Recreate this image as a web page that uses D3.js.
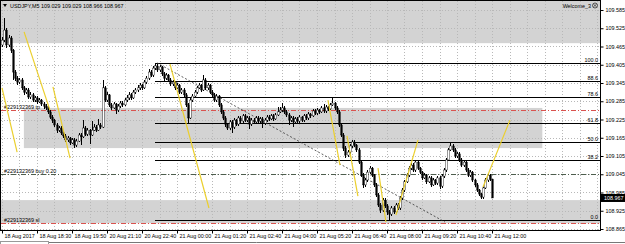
<!DOCTYPE html>
<meta charset="utf-8">
<style>
body { margin: 0; background: #fff; }
svg { display: block; font-family: "Liberation Sans", Arial, sans-serif; }
.grid line { stroke: #b8b8b8; stroke-dasharray: 1,2; shape-rendering: crispEdges; }
.zone { fill: #d3d3d3; }
.wick { stroke: #000; stroke-width: 1; shape-rendering: crispEdges; }
.fib { stroke: #000; stroke-width: 1; shape-rendering: crispEdges; }
.zz { stroke: #ebcf2e; stroke-width: 1.2; fill: none; }
.trend { stroke: #333; stroke-dasharray: 2,2; stroke-width: 0.8; }
.txt { font-size: 5.4px; fill: #000; }
</style>
<svg width="625" height="244"></svg>
<script src="https://d3js.org/d3.v7.min.js"></script>
<script>

var symbol = "USDJPY,M5",
    expertName = "Welcome_3";

var timeLabels = ["18 Aug 2017","18 Aug 18:30","18 Aug 19:50","20 Aug 21:10","20 Aug 22:40",
  "21 Aug 00:00","21 Aug 01:20","21 Aug 02:40","21 Aug 04:00","21 Aug 05:20",
  "21 Aug 06:40","21 Aug 08:00","21 Aug 09:20","21 Aug 10:40","21 Aug 12:00"];

var priceTicks = [109.585,109.525,109.465,109.405,109.345,109.285,109.225,
  109.165,109.105,109.045,108.985,108.925,108.865];

var firstOpen = 109.470;

var closes = [
  109.486,109.519,109.470,109.493,109.453,109.381,109.361,109.348,109.355,109.329,
  109.315,109.322,109.299,109.306,109.289,109.296,109.283,109.289,109.276,109.269,
  109.263,109.250,109.233,109.223,109.207,109.190,109.197,109.181,109.171,109.158,
  109.164,109.148,109.158,109.141,109.154,109.174,109.168,109.197,109.177,109.190,
  109.174,109.190,109.200,109.190,109.207,109.200,109.329,109.289,109.306,109.273,
  109.263,109.276,109.256,109.269,109.279,109.273,109.289,109.296,109.306,109.296,
  109.315,109.322,109.329,109.338,109.329,109.348,109.361,109.381,109.371,109.394,
  109.401,109.388,109.398,109.375,109.361,109.371,109.355,109.342,109.348,109.329,
  109.338,109.315,109.322,109.306,109.273,109.230,109.289,109.302,109.315,109.329,
  109.338,109.322,109.355,109.329,109.338,109.315,109.306,109.289,109.302,109.273,
  109.250,109.230,109.210,109.197,109.217,109.200,109.223,109.210,109.230,109.220,
  109.237,109.223,109.230,109.210,109.223,109.217,109.230,109.220,109.227,109.213,
  109.223,109.233,109.227,109.237,109.227,109.240,109.250,109.256,109.263,109.250,
  109.240,109.223,109.230,109.217,109.227,109.220,109.233,109.223,109.237,109.230,
  109.243,109.237,109.253,109.246,109.256,109.250,109.263,109.253,109.266,109.260,
  109.273,109.279,109.263,109.250,109.207,109.174,109.131,109.108,109.118,109.138,
  109.151,109.141,109.125,109.085,109.042,109.010,109.026,109.052,109.065,109.042,
  109.010,108.977,108.944,108.927,108.960,108.941,108.921,108.914,108.934,108.921,
  108.944,108.934,108.967,108.993,109.020,109.042,109.065,109.075,109.059,109.085,
  109.065,109.052,109.033,109.042,109.020,109.033,109.010,109.026,109.016,109.033,
  109.006,109.039,109.059,109.092,109.125,109.138,109.125,109.105,109.112,109.092,
  109.075,109.085,109.059,109.042,109.052,109.026,109.010,108.993,108.980,108.970,
  109.000,109.026,109.042,109.029,108.967];

var highs = [
  109.497,109.559,109.525,109.502,109.499,109.458,109.388,109.368,109.362,109.360,
  109.335,109.330,109.327,109.314,109.311,109.303,109.301,109.296,109.293,109.282,
  109.275,109.268,109.255,109.240,109.228,109.213,109.204,109.202,109.187,109.177,
  109.171,109.169,109.165,109.163,109.160,109.181,109.180,109.223,109.202,109.197,
  109.195,109.220,109.210,109.206,109.226,109.212,109.355,109.335,109.315,109.310,
  109.279,109.283,109.280,109.276,109.286,109.285,109.296,109.304,109.314,109.312,
  109.322,109.330,109.337,109.346,109.343,109.355,109.368,109.390,109.388,109.402,
  109.411,109.407,109.405,109.402,109.380,109.378,109.376,109.360,109.356,109.352,
  109.346,109.343,109.330,109.327,109.311,109.279,109.296,109.309,109.322,109.336,
  109.346,109.343,109.371,109.360,109.345,109.343,109.321,109.311,109.309,109.307,
  109.278,109.255,109.236,109.215,109.224,109.222,109.230,109.228,109.237,109.236,
  109.244,109.242,109.237,109.235,109.230,109.229,109.237,109.235,109.234,109.232,
  109.230,109.240,109.239,109.244,109.242,109.247,109.266,109.265,109.280,109.268,
  109.255,109.245,109.237,109.235,109.234,109.232,109.240,109.238,109.244,109.242,
  109.250,109.248,109.260,109.258,109.263,109.261,109.270,109.276,109.273,109.271,
  109.280,109.295,109.284,109.268,109.255,109.212,109.180,109.137,109.125,109.145,
  109.158,109.156,109.146,109.130,109.090,109.048,109.033,109.059,109.072,109.070,
  109.047,109.016,108.983,108.950,108.967,108.966,108.947,108.928,108.941,108.940,
  108.951,108.950,108.974,109.000,109.027,109.050,109.072,109.083,109.081,109.092,
  109.090,109.070,109.057,109.049,109.047,109.040,109.038,109.033,109.031,109.040,
  109.038,109.046,109.066,109.099,109.132,109.151,109.144,109.130,109.119,109.117,
  109.097,109.092,109.090,109.064,109.059,109.057,109.031,109.015,108.998,108.985,
  109.007,109.033,109.049,109.047,109.029];

var lows = [
  109.462,109.480,109.461,109.463,109.444,109.355,109.352,109.338,109.342,109.322,
  109.306,109.309,109.292,109.293,109.281,109.284,109.276,109.278,109.270,109.261,
  109.255,109.243,109.226,109.214,109.199,109.182,109.184,109.174,109.163,109.150,
  109.151,109.140,109.143,109.131,109.136,109.150,109.141,109.163,109.171,109.172,
  109.145,109.170,109.186,109.184,109.186,109.195,109.196,109.283,109.282,109.266,
  109.255,109.258,109.243,109.250,109.263,109.266,109.268,109.283,109.290,109.289,
  109.291,109.309,109.316,109.323,109.321,109.324,109.342,109.356,109.364,109.366,
  109.388,109.380,109.382,109.368,109.353,109.356,109.348,109.335,109.336,109.322,
  109.324,109.308,109.310,109.299,109.266,109.213,109.226,109.284,109.297,109.310,
  109.324,109.316,109.318,109.322,109.323,109.309,109.299,109.282,109.284,109.266,
  109.243,109.222,109.201,109.190,109.192,109.181,109.195,109.204,109.205,109.214,
  109.215,109.217,109.218,109.195,109.205,109.211,109.212,109.214,109.215,109.197,
  109.208,109.218,109.221,109.222,109.221,109.222,109.235,109.245,109.251,109.244,
  109.233,109.207,109.218,109.200,109.212,109.214,109.215,109.217,109.218,109.224,
  109.225,109.231,109.232,109.240,109.241,109.244,109.245,109.247,109.248,109.254,
  109.255,109.268,109.257,109.243,109.200,109.166,109.122,109.098,109.102,109.113,
  109.132,109.135,109.118,109.078,109.035,109.000,109.004,109.020,109.046,109.036,
  109.003,108.970,108.936,108.919,108.921,108.934,108.912,108.893,108.908,108.914,
  108.916,108.927,108.929,108.961,108.988,109.015,109.037,109.060,109.053,109.054,
  109.058,109.046,109.026,109.028,109.013,109.015,109.003,109.005,109.010,109.011,
  108.998,109.001,109.034,109.054,109.087,109.120,109.119,109.098,109.100,109.085,
  109.068,109.070,109.052,109.035,109.037,109.019,109.003,108.986,108.973,108.964,
  108.965,108.995,109.020,109.022,108.966];

// rectangles: [fromBar, toBar, priceTop, priceBottom]
var zones = [
  [-2, 280, 109.700, 109.476],
  [10, 247, 109.263, 109.131],
  [-2, 280, 108.960, 108.884]
];

// yellow segments: [bar1, price1, bar2, price2]
var yellowLines = [
  [0, 109.329, 6.9, 109.118],
  [10.1, 109.513, 21.9, 109.256],
  [23.3, 109.332, 31.1, 109.098],
  [76.8, 109.407, 94.6, 108.934],
  [149, 109.289, 154.5, 109.075],
  [157.7, 109.171, 162.7, 108.973],
  [171.9, 109.065, 175.5, 108.888],
  [180.1, 108.911, 190.2, 109.158],
  [219.9, 109.003, 232.2, 109.223]
];

var trendLine = [70.9, 109.411, 202.5, 108.888];

var fibStartBar = 69.9, fibHigh = 109.411, fibLow = 108.893;
var fibLevels = [0, 38.2, 50, 61.8, 78.6, 88.6, 100];

var orderNames = ["#229132369 tp", "#229132369 buy 0.20", "#229132369 sl"];
var orderPrices = [109.256, 109.046, 108.884];
var orderKinds = ["stop", "open", "stop"];

var svg = d3.select("svg"),
    width = +svg.attr("width"),
    height = +svg.attr("height");

var plot = { left: 1, right: 600, top: 1, bottom: 230 };

var x = d3.scaleLinear().domain([0, 224]).range([2, 492]);
var y = d3.scaleLinear().domain([108.865, 109.585]).range([229, 10]);

svg.append("clipPath").attr("id", "clip")
  .append("rect")
    .attr("x", plot.left).attr("y", plot.top)
    .attr("width", plot.right - plot.left).attr("height", plot.bottom - plot.top);

var g = svg.append("g").attr("clip-path", "url(#clip)");

// zones
g.selectAll(".zone").data(zones).enter().append("rect")
    .attr("class", "zone")
    .attr("x", function(d) { return x(d[0]); })
    .attr("width", function(d) { return x(d[1]) - x(d[0]); })
    .attr("y", function(d) { return y(d[2]); })
    .attr("height", function(d) { return y(d[3]) - y(d[2]); });

// grid
var grid = g.append("g").attr("class", "grid");
grid.selectAll(".v").data(d3.range(0, 280, 8)).enter().append("line")
    .attr("x1", function(d) { return Math.round(x(d)) + 0.5; })
    .attr("x2", function(d) { return Math.round(x(d)) + 0.5; })
    .attr("y1", plot.top).attr("y2", plot.bottom);
grid.selectAll(".h").data(priceTicks).enter().append("line")
    .attr("x1", plot.left).attr("x2", plot.right)
    .attr("y1", function(d) { return Math.round(y(d)) + 0.5; })
    .attr("y2", function(d) { return Math.round(y(d)) + 0.5; });

// fibonacci levels
var fibPrice = function(l) { return fibLow + (fibHigh - fibLow) * l / 100; };
g.selectAll(".fib").data(fibLevels).enter().append("line")
    .attr("class", "fib")
    .attr("x1", x(fibStartBar)).attr("x2", plot.right)
    .attr("y1", function(d) { return Math.round(y(fibPrice(d))) + 0.5; })
    .attr("y2", function(d) { return Math.round(y(fibPrice(d))) + 0.5; });
g.selectAll(".fibtxt").data(fibLevels).enter().append("text")
    .attr("class", "txt")
    .attr("x", plot.right - 2)
    .attr("y", function(d) { return Math.round(y(fibPrice(d))) - 1; })
    .attr("text-anchor", "end")
    .text(function(d) { return d.toFixed(1); });

// order lines
var orderColor = { stop: "#d9534f", open: "#4d5d4d" };
g.selectAll(".order").data(orderPrices).enter().append("line")
    .attr("x1", plot.left).attr("x2", plot.right)
    .attr("y1", function(d) { return Math.round(y(d)) + 0.5; })
    .attr("y2", function(d) { return Math.round(y(d)) + 0.5; })
    .attr("stroke", function(d, i) { return orderColor[orderKinds[i]]; })
    .attr("stroke-dasharray", "5,2,1,2");
g.selectAll(".ordertxt").data(orderPrices).enter().append("text")
    .attr("class", "txt")
    .attr("x", 4)
    .attr("y", function(d) { return Math.round(y(d)) - 1.5; })
    .text(function(d, i) { return orderNames[i]; });

// trend line
g.append("line").attr("class", "trend")
    .attr("x1", x(trendLine[0])).attr("y1", y(trendLine[1]))
    .attr("x2", x(trendLine[2])).attr("y2", y(trendLine[3]));

// candles
var bars = closes.map(function(c, i) {
  return { i: i, o: i ? closes[i - 1] : firstOpen, h: highs[i], l: lows[i], c: c };
});
var candle = g.selectAll(".candle").data(bars).enter().append("g");
candle.append("line").attr("class", "wick")
    .attr("x1", function(d) { return Math.round(x(d.i)) + 0.5; })
    .attr("x2", function(d) { return Math.round(x(d.i)) + 0.5; })
    .attr("y1", function(d) { return y(d.h); })
    .attr("y2", function(d) { return y(d.l); });
candle.append("rect")
    .attr("x", function(d) { return Math.round(x(d.i)) - 0.3; })
    .attr("width", 1.6)
    .attr("y", function(d) { return y(Math.max(d.o, d.c)); })
    .attr("height", function(d) { return Math.max(1, Math.abs(y(d.o) - y(d.c))); })
    .attr("fill", function(d) { return d.c >= d.o ? "#fff" : "#000"; })
    .attr("stroke", "#000").attr("stroke-width", 0.4);

// yellow lines
g.selectAll(".zz").data(yellowLines).enter().append("line")
    .attr("class", "zz")
    .attr("x1", function(d) { return x(d[0]); }).attr("y1", function(d) { return y(d[1]); })
    .attr("x2", function(d) { return x(d[2]); }).attr("y2", function(d) { return y(d[3]); });

// frame
svg.append("rect")
    .attr("x", plot.left - 0.5).attr("y", plot.top - 0.5)
    .attr("width", plot.right - plot.left + 1).attr("height", plot.bottom - plot.top + 1)
    .attr("fill", "none").attr("stroke", "#000");

// price axis
var yAxis = svg.append("g").attr("transform", "translate(" + (plot.right + 0.5) + ",0)")
    .call(d3.axisRight(y).tickValues(priceTicks).tickSize(3).tickPadding(2)
      .tickFormat(d3.format(".3f")));
yAxis.select(".domain").remove();
yAxis.selectAll("text").attr("class", "txt").attr("font-size", null).attr("font-family", null);

// time axis
var xAxis = svg.append("g").attr("transform", "translate(0," + (plot.bottom + 0.5) + ")")
    .call(d3.axisBottom(x).tickValues(d3.range(0, 225, 16)).tickSize(3).tickPadding(2)
      .tickFormat(function(d, i) { return timeLabels[i]; }));
xAxis.select(".domain").remove();
xAxis.selectAll("text").attr("class", "txt").attr("font-size", null).attr("font-family", null)
    .attr("text-anchor", "start").attr("dx", 2).attr("dy", "0.4em");

// current price marker
var last = bars[bars.length - 1];
svg.append("rect")
    .attr("x", plot.right + 1).attr("y", y(last.c) - 4)
    .attr("width", width - plot.right - 1).attr("height", 8)
    .attr("fill", "#000");
svg.append("text").attr("class", "txt")
    .attr("x", plot.right + 4).attr("y", y(last.c) + 2)
    .style("fill", "#fff")
    .text(last.c.toFixed(3));

// header
svg.append("path").attr("d", "M3,4 L7,4 L5,7 Z").attr("fill", "#000");
svg.append("text").attr("class", "txt")
    .attr("x", 10).attr("y", 7.5)
    .text(symbol + "  " + [last.o, last.h, last.l, last.c].map(function(v) { return v.toFixed(3); }).join(" "));
svg.append("text").attr("class", "txt")
    .attr("x", 591).attr("y", 7.5).attr("text-anchor", "end")
    .text(expertName);
svg.append("circle").attr("cx", 595).attr("cy", 5.5).attr("r", 2.5)
    .attr("fill", "none").attr("stroke", "#000").attr("stroke-width", 0.6);
svg.append("path").attr("d", "M593.8,4.3 L596.2,6.7 M596.2,4.3 L593.8,6.7")
    .attr("stroke", "#000").attr("stroke-width", 0.6);

// tab strip
svg.append("line").attr("x1", 0).attr("x2", width).attr("y1", 242.5).attr("y2", 242.5)
    .attr("stroke", "#777");
svg.append("rect").attr("x", 0.5).attr("y", 241.5).attr("width", 48).attr("height", 3)
    .attr("fill", "#fff").attr("stroke", "#999");

</script>
